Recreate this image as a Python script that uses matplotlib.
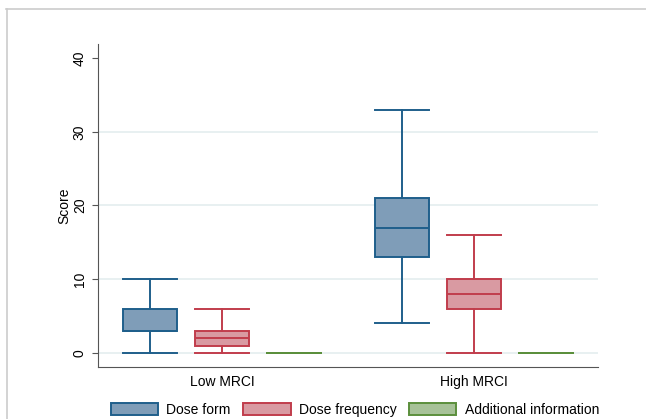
import numpy as np
import matplotlib.pyplot as plt
from matplotlib.patches import Patch
from matplotlib.lines import Line2D

plt.rcParams['font.family'] = ['Liberation Sans', 'DejaVu Sans']

groups = ["Low MRCI", "High MRCI"]
series = ["Dose form", "Dose frequency", "Additional information"]

# box stats per series: [low, high]
whislo = [[0, 4], [0, 0], [0, 0]]
q1 = [[3, 13], [1, 6], [0, 0]]
med = [[3, 17], [2, 8], [0, 0]]
q3 = [[6, 21], [3, 10], [0, 0]]
whishi = [[10, 33], [6, 16], [0, 0]]

faces = ["#7f9db8", "#d99aa2", "#a7c298"]
edges = ["#1f5f8b", "#c13d4c", "#5b8f3c"]

fig = plt.figure(figsize=(6.46, 4.19), dpi=100)
ax = fig.add_axes([98/646, 1-367/419, 500/646, 323/419])

offsets = [-0.2857, 0, 0.2857]
for s in range(3):
    stats = []
    for g in range(2):
        stats.append(dict(med=med[s][g], q1=q1[s][g], q3=q3[s][g],
                          whislo=whislo[s][g], whishi=whishi[s][g], fliers=[]))
    pos = [g + offsets[s] for g in range(2)]
    ax.bxp(stats, positions=pos, widths=0.214, showfliers=False, patch_artist=True,
           boxprops=dict(facecolor=faces[s], edgecolor=edges[s], linewidth=1.4),
           medianprops=dict(color=edges[s], linewidth=1.4),
           whiskerprops=dict(color=edges[s], linewidth=1.4),
           capprops=dict(color=edges[s], linewidth=1.4),
           capwidths=0.214, manage_ticks=False)

ax.set_xlim(-0.492, 1.492)
ax.set_ylim(-1.9, 41.9)
ax.set_yticks([0, 10, 20, 30, 40])
ax.set_yticklabels(["0", "10", "20", "30", "40"], rotation=90, va='center', fontsize=10)
ax.set_xticks([0, 1])
ax.set_xticklabels(groups, fontsize=10)
ax.tick_params(axis='x', length=0, pad=6)
ax.tick_params(axis='y', length=4, color='#555555', pad=4)
for y in [0, 10, 20, 30]:
    ax.axhline(y, color='#e6eff0', linewidth=1.3, zorder=0)
ax.spines['top'].set_visible(False)
ax.spines['right'].set_visible(False)
ax.spines['left'].set_color('#555555')
ax.spines['bottom'].set_color('#555555')
ax.set_ylabel("Score", fontsize=10, labelpad=1)

handles = [Patch(facecolor=faces[i], edgecolor=edges[i], linewidth=1.4) for i in range(3)]
fig.legend(handles, series, loc='center', bbox_to_anchor=(355/646, 1-409.5/419), ncol=3,
           frameon=False, fontsize=10, handlelength=3.4, handleheight=1.0,
           columnspacing=0.9, handletextpad=0.6)

# outer frame
fig.add_artist(Line2D([6/646, 1], [1-9.5/419, 1-9.5/419], transform=fig.transFigure, color='#cccccc', linewidth=1.2))
fig.add_artist(Line2D([7/646, 7/646], [0, 1-9.5/419], transform=fig.transFigure, color='#cccccc', linewidth=1.2))

fig.savefig("out.png", dpi=100)
